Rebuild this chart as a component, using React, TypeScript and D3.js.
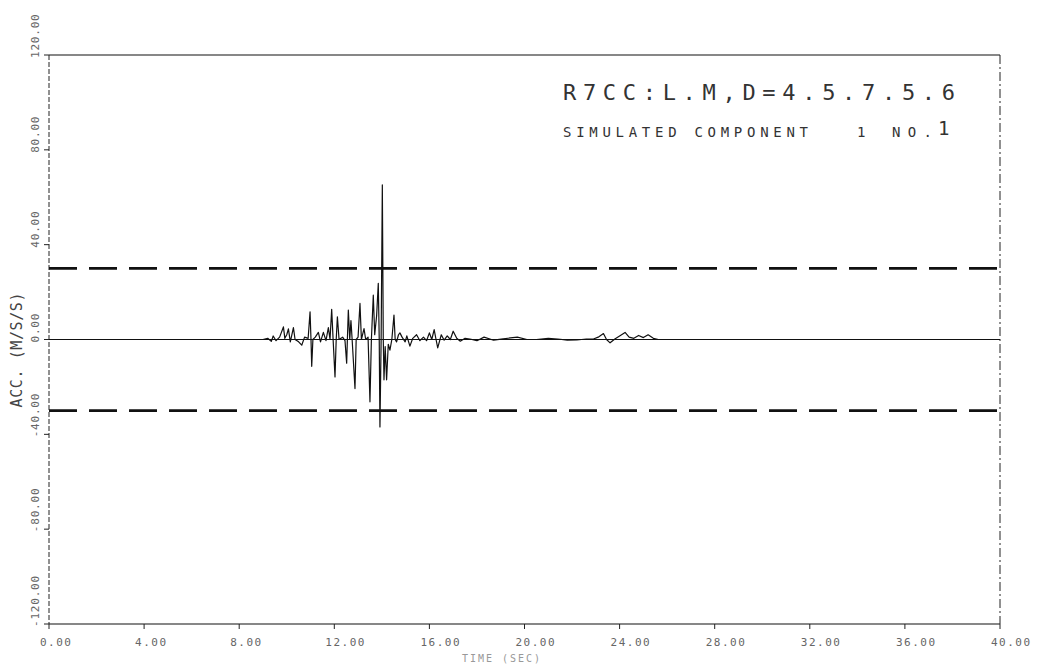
import { select, scaleLinear, line } from "d3";
import React, { useEffect, useRef } from "react";

const times = [
  0, 9.0, 9.2, 9.35, 9.43, 9.55, 9.7, 9.86, 9.92, 10.0, 10.07, 10.15, 10.28, 10.35, 10.5,
  10.63, 10.75, 10.9, 10.98, 11.02, 11.05, 11.1, 11.2, 11.33, 11.42, 11.54, 11.65, 11.75,
  11.82, 11.89, 11.95, 12.03, 12.08, 12.13, 12.2, 12.35, 12.45, 12.52, 12.55, 12.59, 12.65,
  12.7, 12.75, 12.87, 12.92, 13.0, 13.08, 13.14, 13.25, 13.32, 13.42, 13.5, 13.56, 13.64,
  13.7, 13.78, 13.85, 13.89, 13.92, 13.97, 14.02, 14.06, 14.09, 14.14, 14.2, 14.27, 14.34,
  14.42, 14.51, 14.56, 14.62, 14.7, 14.76, 14.85, 14.98, 15.05, 15.18, 15.3, 15.46, 15.6,
  15.75, 15.88, 16.0, 16.1, 16.2, 16.28, 16.35, 16.5, 16.62, 16.75, 16.88, 17.0, 17.15,
  17.3, 17.5, 17.7, 18.0, 18.3, 18.7, 19.1, 19.7, 20.1, 20.5, 21.0, 21.4, 21.8, 22.2, 22.6,
  22.9, 23.1, 23.32, 23.45, 23.6, 23.8, 24.0, 24.23, 24.4, 24.6, 24.8, 25.0, 25.2, 25.42,
  25.63, 40,
];
const accel = [
  0, 0, 0.5, -0.8, 1.5, -0.5, 1, 5.3, 0.5, 2, 4.5, -1, 5, 0, -1,
  -2.4, 1, 0.5, 11.7, 0, -11.3, 0, 1, 3, -1, 3, -0.5, 5,
  0, 12.7, 0, -15.8, 0, 9.6, 0, 1, -0.5, -10, 0, 12.4, 0,
  8, 0, -20.7, 0, 1, 15.2, 0, 4.6, 0, 1, -26.3, 0, 18.7,
  2, 10, 23.7, 0, -36.9, 0, 65.2, 0, -17, -3, -17, -2, -4.5,
  0, 10.3, 0, -1, 2, 2.8, 1, -1, 1.5, -2.8, 0.5, 2, -0.5,
  1, -0.5, 2.8, 0, 4.2, 0, -3.5, 2, -0.3, 1.5, 0, 3.5, 0.5,
  -0.7, 0.5, 0.2, -0.5, 1, -0.3, 0.3, 1, 0, 0, 0.5, 0.2, -0.3, -0.2, 0.2,
  0.2, 1, 2.5, 0, -1.4, 0.2, 1.5, 3, 1, 0.5, 1.7, 0.8, 2, 0.5,
  0, 0,
];
const xTicks = [0, 4, 8, 12, 16, 20, 24, 28, 32, 36, 40];
const yTicks = [120, 80, 40, 0, -40, -80, -120];
const limits = [30, -30];

function App() {
  const svgRef = useRef();

  useEffect(() => {
    const svg = select(svgRef.current);
    svg.selectAll("*").remove();

    const x = scaleLinear().domain([0, 40]).range([49, 1000]);
    const y = scaleLinear().domain([-120, 120]).range([624, 55]);
    const mono = "DejaVu Sans Mono, monospace";

    // frame
    svg.append("line").attr("x1", x(0)).attr("x2", x(40)).attr("y1", y(120)).attr("y2", y(120))
      .attr("stroke", "#111").attr("stroke-width", 1.2);
    svg.append("line").attr("x1", x(0)).attr("x2", x(40)).attr("y1", y(-120)).attr("y2", y(-120))
      .attr("stroke", "#111").attr("stroke-width", 1.2);
    svg.append("line").attr("x1", x(0)).attr("x2", x(0)).attr("y1", y(120)).attr("y2", y(-120))
      .attr("stroke", "#222").attr("stroke-width", 1).attr("stroke-dasharray", "5,2");
    svg.append("line").attr("x1", x(40)).attr("x2", x(40)).attr("y1", y(120)).attr("y2", y(-120))
      .attr("stroke", "#222").attr("stroke-width", 1).attr("stroke-dasharray", "9,3,2,3");

    // ticks
    svg.selectAll(".xt").data(xTicks).join("line").attr("class", "xt")
      .attr("x1", (d) => x(d)).attr("x2", (d) => x(d))
      .attr("y1", y(-120)).attr("y2", y(-120) + 5)
      .attr("stroke", "#222");
    svg.selectAll(".yt").data(yTicks).join("line").attr("class", "yt")
      .attr("x1", x(0) - 5).attr("x2", x(0))
      .attr("y1", (d) => y(d)).attr("y2", (d) => y(d))
      .attr("stroke", "#222");

    // tick labels (plotter style: start at the tick)
    svg.selectAll(".xl").data(xTicks).join("text").attr("class", "xl")
      .attr("x", (d) => x(d) - 9).attr("y", y(-120) + 22)
      .style("font-family", mono).style("font-size", "11px")
      .style("letter-spacing", "1.5px").attr("fill", "#666")
      .text((d) => d.toFixed(2));
    svg.selectAll(".yl").data(yTicks).join("text").attr("class", "yl")
      .attr("transform", (d) => `translate(35,${y(d) + 3}) rotate(-90)`)
      .attr("dy", "0.35em")
      .style("font-family", mono).style("font-size", "11px")
      .style("letter-spacing", "0.8px").attr("fill", "#666")
      .text((d) => d.toFixed(2));

    // axis titles
    svg.append("text").attr("transform", `translate(17,350) rotate(-90)`)
      .attr("text-anchor", "middle").attr("dy", "0.35em")
      .style("font-family", mono).style("font-size", "15px").attr("fill", "#444")
      .attr("textLength", 115).attr("lengthAdjust", "spacing")
      .text("ACC. (M/S/S)");
    svg.append("text").attr("x", 502).attr("y", 662)
      .attr("text-anchor", "middle")
      .style("font-family", mono).style("font-size", "10px").attr("fill", "#999")
      .style("letter-spacing", "2px")
      .text("TIME (SEC)");

    // limit lines and zero line
    svg.selectAll(".lim").data(limits).join("line").attr("class", "lim")
      .attr("x1", x(0)).attr("x2", x(40))
      .attr("y1", (d) => y(d)).attr("y2", (d) => y(d))
      .attr("stroke", "#111").attr("stroke-width", 2.6)
      .attr("stroke-dasharray", "28,12");
    svg.append("line").attr("x1", x(0)).attr("x2", x(40)).attr("y1", y(0)).attr("y2", y(0))
      .attr("stroke", "#111").attr("stroke-width", 1.2);

    // trace
    const pts = times.map((t, i) => [t, accel[i]]);
    const path = line().x((d) => x(d[0])).y((d) => y(d[1]));
    svg.append("path").attr("d", path(pts))
      .attr("fill", "none").attr("stroke", "#111").attr("stroke-width", 1.2)
      .attr("stroke-linejoin", "round");

    // title block
    svg.append("text").attr("x", 563).attr("y", 100)
      .style("font-family", mono).style("font-size", "22px").attr("fill", "#333")
      .attr("textLength", 392).attr("lengthAdjust", "spacing")
      .text("R7CC:L.M,D=4.5.7.5.6");
    svg.append("text").attr("x", 563).attr("y", 137)
      .style("font-family", mono).style("font-size", "14px").attr("fill", "#333")
      .attr("textLength", 245).attr("lengthAdjust", "spacing")
      .text("SIMULATED COMPONENT");
    svg.append("text").attr("x", 857).attr("y", 137)
      .style("font-family", mono).style("font-size", "14px").attr("fill", "#333")
      .text("1");
    svg.append("text").attr("x", 892).attr("y", 137)
      .style("font-family", mono).style("font-size", "14px").attr("fill", "#333")
      .attr("textLength", 40).attr("lengthAdjust", "spacing")
      .text("NO.");
    svg.append("text").attr("x", 938).attr("y", 135)
      .style("font-family", mono).style("font-size", "19px").attr("fill", "#333")
      .text("1");
  }, []);

  return (
    <svg
      ref={svgRef}
      width={1043}
      height={669}
      style={{ position: "absolute", left: 0, top: 0, background: "#fff" }}
    />
  );
}

export default App;
